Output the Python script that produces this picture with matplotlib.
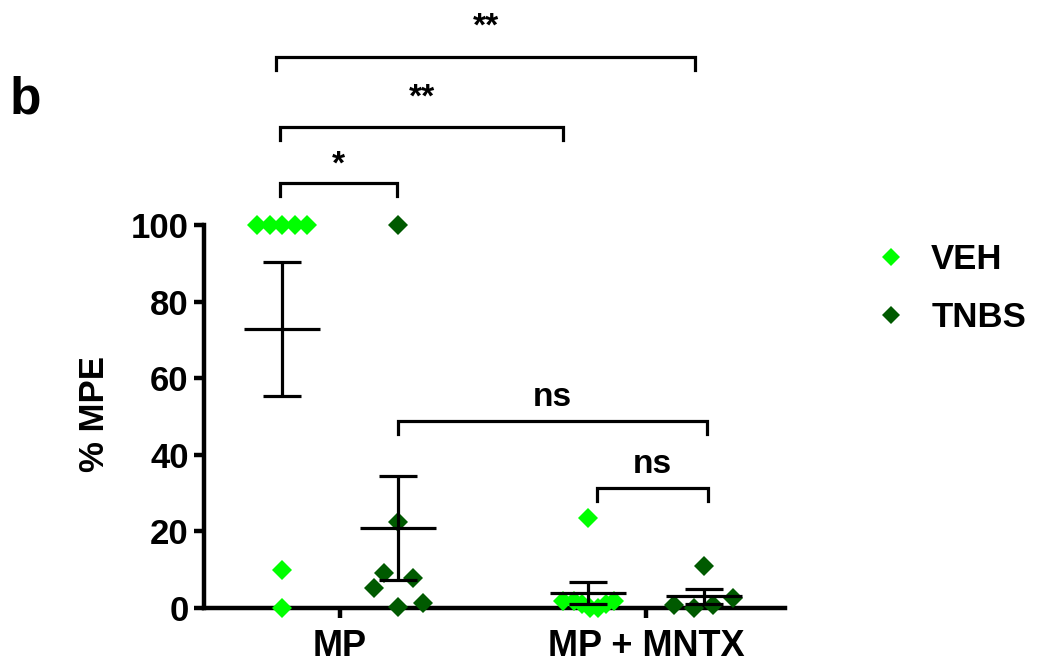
import matplotlib
matplotlib.use("Agg")
import matplotlib.pyplot as plt
import numpy as np
from matplotlib.lines import Line2D

# ---------------- data ----------------
groups = ["MP", "MP + MNTX"]
series = ["VEH", "TNBS"]
veh_mp = [100, 100, 100, 100, 100, 10, 0]
tnbs_mp = [100, 22.5, 9.1, 7.8, 5.2, 0.3, 1.3]
veh_mntx = [23.5, 1.8, 1.8, 1.0, 0.0, 0.0, 1.0, 1.8]
tnbs_mntx = [11.0, 0.8, 0.0, 0.8, 2.6]
# horizontal scatter jitter (in pixels of the reference, converted below)
jit_veh_mp = [-25, -12, 0, 13, 25, 0, 0]
jit_tnbs_mp = [0, 0, -14, 15, -24, 0, 25]
jit_veh_mntx = [0, -25, -14, -6, 2, 10, 18, 26]
jit_tnbs_mntx = [0, -30, -10, 9, 29]
yticks = [0, 20, 40, 60, 80, 100]

# significance brackets: (x_left, x_right, y_bar, label, label_y)
brackets = [
    (-0.209, 1.160, 143.9, "**", 149.4),
    (-0.196, 0.729, 125.6, "**", 130.8),
    (-0.196, 0.186, 111.0, "*", 113.4),
    (0.190, 1.199, 48.8, "ns", 52.7),
    (0.840, 1.203, 31.3, "ns", 35.2),
]

# ---------------- style ----------------
W, H = 1037, 662
DPI = 100
c_veh = "#00ff00"
c_tnbs = "#005a00"
FONT = "Liberation Sans"
plt.rcParams["font.family"] = [FONT, "DejaVu Sans"]
plt.rcParams["font.weight"] = "bold"

fig = plt.figure(figsize=(W / DPI, H / DPI), dpi=DPI)
ax_left_px, ax_right_px = 204, 785
y0_px, y100_px = 608, 225
ppu = (y0_px - y100_px) / 100.0
unit_px = 306.0
mp_px = 340.0
ax = fig.add_axes([ax_left_px / W, (H - y0_px) / H,
                   (ax_right_px - ax_left_px) / W, y0_px / H])
ax.set_xlim((ax_left_px - mp_px) / unit_px, (ax_right_px - mp_px) / unit_px)
ax.set_ylim(0, y0_px / ppu)

off = 0.19
sets = [
    (0 - off, veh_mp, jit_veh_mp, c_veh),
    (0 + off, tnbs_mp, jit_tnbs_mp, c_tnbs),
    (1 - off, veh_mntx, jit_veh_mntx, c_veh),
    (1 + off, tnbs_mntx, jit_tnbs_mntx, c_tnbs),
]
lw_err = 2.3
for xc, vals, jit, col in sets:
    vals = np.array(vals, dtype=float)
    xs = xc + np.array(jit) / unit_px
    ax.plot(xs, vals, linestyle="none", marker="D", ms=10, color=col,
            markeredgewidth=0, clip_on=False, zorder=3)
    m = vals.mean()
    sem = vals.std(ddof=1) / np.sqrt(len(vals))
    hw = 38 / unit_px
    cw = 19 / unit_px
    ax.plot([xc - hw, xc + hw], [m, m], color="black", lw=lw_err, zorder=4,
            solid_capstyle="butt")
    ax.plot([xc, xc], [m - sem, m + sem], color="black", lw=lw_err, zorder=4,
            solid_capstyle="butt")
    for yy in (m - sem, m + sem):
        ax.plot([xc - cw, xc + cw], [yy, yy], color="black", lw=lw_err, zorder=4,
                solid_capstyle="butt")

# brackets
leg = 13 / ppu
for x1, x2, yb, lab, ly in brackets:
    ax.plot([x1, x1, x2, x2], [yb - leg, yb, yb, yb - leg], color="black",
            lw=2.3, clip_on=False, solid_joinstyle="miter")
    ax.text((x1 + x2) / 2, ly, lab, ha="center", va="baseline",
            fontsize=24, fontweight="bold")

# axes styling
for s in ["top", "right"]:
    ax.spines[s].set_visible(False)
ax.spines["left"].set_bounds(0, 100)
for s in ["left", "bottom"]:
    ax.spines[s].set_linewidth(3.2)
ax.set_yticks(yticks)
ax.set_yticklabels([str(t) for t in yticks])
ax.set_xticks([0, 1])
ax.set_xticklabels(groups)
ax.tick_params(axis="both", width=3.2, length=7)
ax.tick_params(axis="y", labelsize=25, pad=4)
ax.tick_params(axis="x", labelsize=26, pad=8)
for lab in ax.get_xticklabels() + ax.get_yticklabels():
    lab.set_fontweight("bold")
ax.patch.set_visible(False)

fig.text(95 / W, 1 - 414 / H, "% MPE", rotation=90, ha="center", va="center",
         fontsize=25, fontweight="bold")
fig.text(10 / W, 1 - 114 / H, "b", ha="left", va="baseline", fontsize=37,
         fontweight="bold")

# legend
handles = [Line2D([], [], linestyle="none", marker="D", ms=9.5, color=c_veh, markeredgewidth=0),
           Line2D([], [], linestyle="none", marker="D", ms=9.5, color=c_tnbs, markeredgewidth=0)]
fig.legend(handles, series, loc="upper left", bbox_to_anchor=(860 / W, 1 - 229 / H),
           frameon=False, handletextpad=0.65, labelspacing=0.72,
           borderaxespad=0, handlelength=1.0, prop={"weight": "bold", "size": 25})

fig.savefig("out.png", dpi=DPI)
